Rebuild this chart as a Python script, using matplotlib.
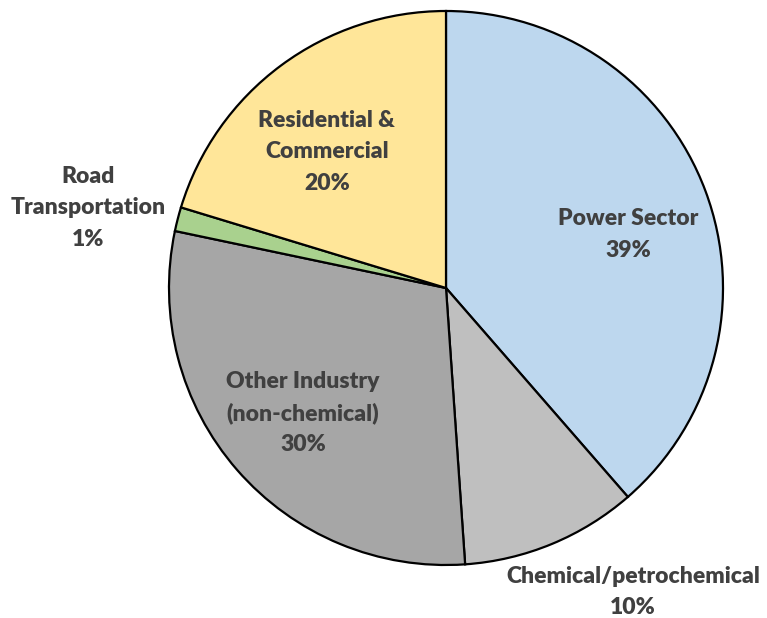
import matplotlib.pyplot as plt

sectors = ["Power Sector", "Chemical/petrochemical", "Other Industry\n(non-chemical)",
           "Road\nTransportation", "Residential &\nCommercial"]
shares = [38.6, 10.3, 29.4, 1.4, 20.3]
pct_labels = ["39%", "10%", "30%", "1%", "20%"]
colors = ["#BDD7EE", "#BFBFBF", "#A6A6A6", "#A9D18E", "#FFE699"]

# label block centres, in pie units (radius = 1)
label_pos = [(0.657, 0.193), (0.675, -1.097), (-0.516, -0.451),
             (-1.292, 0.289), (-0.430, 0.491)]

fig = plt.figure(figsize=(7.67, 6.18), dpi=100)
ax = fig.add_axes([0, 0, 1, 1])
ax.pie(shares, colors=colors, startangle=90, counterclock=False,
       wedgeprops=dict(edgecolor="black", linewidth=1.6))
ax.set_xlim(-446 / 277, 321 / 277)
ax.set_ylim(-330 / 277, 288 / 277)
ax.set_aspect("auto")
ax.axis("off")

for name, pct, (x, y) in zip(sectors, pct_labels, label_pos):
    ax.text(x, y, name + "\n" + pct, ha="center", va="center",
            fontsize=16.5, fontweight="heavy", family="Lato",
            color="#404040", linespacing=1.6)

plt.savefig("out.png", dpi=100)
